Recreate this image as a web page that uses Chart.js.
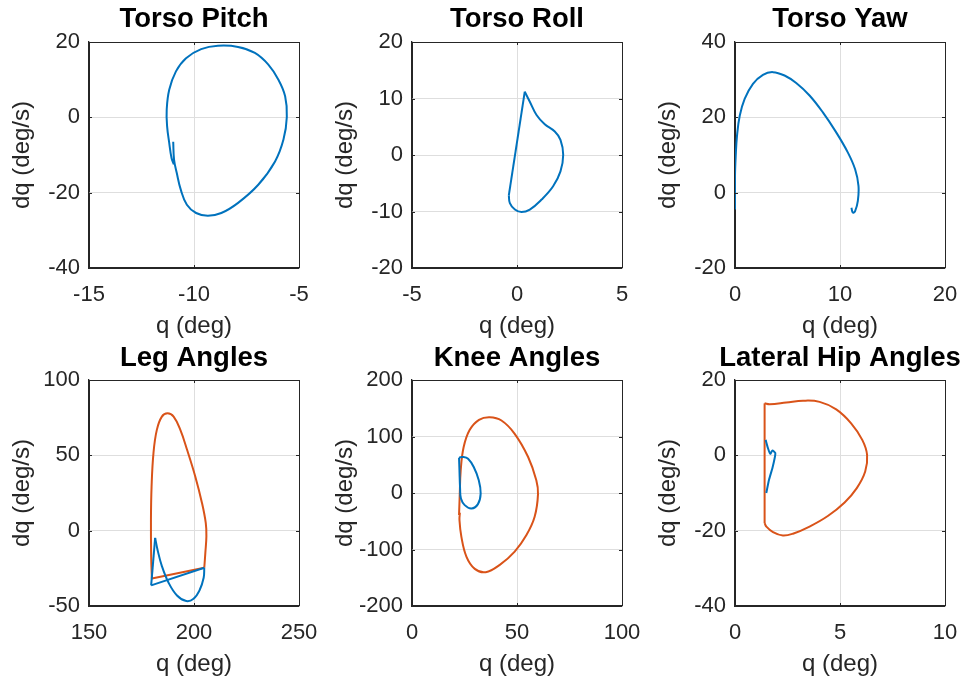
<!DOCTYPE html>
<html>
<head>
<meta charset="utf-8">
<script src="https://cdn.jsdelivr.net/npm/chart.js@4.4.1/dist/chart.umd.min.js"></script>
<style>
  html, body { margin: 0; padding: 0; background: #fff; overflow: hidden; }
  body { width: 964px; height: 679px; position: relative; }
  canvas { position: absolute; }
</style>
</head>
<body>
<script>
// ---- phase portraits: joint angle q (deg) against rate dq (deg/s) ----

// Torso pitch
const pitchQ  = [-10.99, -10.95, -10.82, -10.63, -10.34, -9.90, -9.34, -8.70, -7.90, -6.94, -6.14, -5.74, -5.58, -5.66, -5.98, -6.46, -7.10, -7.90, -8.86, -9.66, -10.38, -10.86, -11.18, -11.30, -11.28, -11.18, -11.07, -10.96];
const pitchDq = [-6.5, -11.2, -14.8, -19.2, -23.2, -25.4, -26.1, -25.4, -22.7, -17.9, -11.7, -5.9, 0.1, 5.6, 10.0, 14.0, 17.1, 18.7, 19.0, 18.1, 15.7, 12.2, 7.3, 2.0, -2.4, -6.8, -10.8, -12.5];

// Torso roll (jump after impact, then the smooth swing)
const rollJumpQ  = [-0.39, 0.37];
const rollJumpDq = [-7.13, 11.2];
const rollQ  = [0.37, 0.61, 0.93, 1.32, 1.80, 2.07, 2.20, 2.07, 1.72, 1.17, 0.61, 0.21, -0.10, -0.34, -0.39];
const rollDq = [11.2, 9.43, 7.08, 5.44, 4.15, 2.68, 0.04, -2.90, -5.54, -7.89, -9.66, -10.1, -9.66, -8.5, -7.13];

// Torso yaw
const yawQ  = [0, 0, 0.07, 0.19, 0.45, 0.92, 1.71, 2.66, 3.61, 4.72, 5.83, 7.10, 8.37, 9.64, 10.74, 11.44, 11.76, 11.70, 11.44, 11.22, 11.09];
const yawDq = [-4.45, 4.4, 9.8, 15.1, 20.4, 24.9, 28.9, 31.3, 32.0, 31.1, 29.1, 25.8, 21.3, 16.0, 10.7, 6.2, 1.8, -2.2, -4.9, -5.3, -4.0];

// Leg angles, leg 1
const leg1JumpQ  = [179.6, 181.5];
const leg1JumpDq = [-36.3, -4.8];
const leg1Q  = [181.5, 182.6, 184.7, 187.9, 191.9, 196.3, 199.8, 202.7, 204.6, 204.9];
const leg1Dq = [-4.8, -12.5, -23.5, -34.6, -43.0, -46.7, -45.2, -39.4, -31.3, -24.6];
const leg1ResetQ  = [204.9, 179.6];
const leg1ResetDq = [-24.6, -36.3];
// Leg angles, leg 2
const leg2Q  = [179.94, 179.6, 179.5, 179.8, 180.7, 182.3, 184.7, 187.4, 190.3, 193.5, 196.7, 200.6, 203.8, 205.6, 205.9, 205.4, 204.9];
const leg2Dq = [-31.7, -16.9, 7.3, 29.4, 51.5, 66.9, 75.7, 77.9, 75.7, 66.9, 53.7, 36.0, 18.4, 5.1, -3.7, -14.7, -24.6];
const leg2ResetQ  = [204.9, 179.94];
const leg2ResetDq = [-24.6, -31.7];

// Knee angles
const knee1Q  = [22.4, 24.3, 26.7, 29.4, 31.8, 32.7, 31.4, 28.3, 25.1, 23.3, 22.9, 22.6, 22.4];
const knee1Dq = [62.5, 63.7, 60.8, 46.0, 22.6, -0.9, -19.7, -27.4, -21.5, -9.8, 7.9, 40.2, 62.5];
const knee2Q  = [22.4, 22.7, 23.2, 24.6, 27.5, 31.9, 37.0, 42.6, 48.9, 55.3, 59.2, 60.0, 58.4, 54.5, 48.9, 41.8, 35.1, 29.9, 25.9, 23.5, 22.6, 22.8];
const knee2Dq = [-39.1, -6.8, 40.2, 81.3, 111.8, 129.5, 134.1, 128.3, 104.8, 63.7, 22.6, -2.0, -42.1, -74.4, -103.7, -127.2, -140.1, -134.3, -112.5, -77.3, -47.9, -35.0];

// Lateral hip angles
const hip1Q  = [1.46, 1.57, 1.68, 1.78, 1.92, 1.89, 1.78, 1.62, 1.49];
const hip1Dq = [4.1, 1.9, 0.4, 1.3, 0.6, -0.7, -3.4, -6.5, -10.0];
const hip2JumpQ  = [1.41, 1.41];
const hip2JumpDq = [-18.0, 13.8];
const hip2Q  = [1.41, 1.65, 2.44, 3.24, 4.03, 4.82, 5.53, 6.06, 6.29, 6.20, 5.80, 5.22, 4.42, 3.55, 2.76, 2.28, 1.81, 1.49, 1.41];
const hip2Dq = [13.8, 13.55, 14.0, 14.5, 14.2, 12.2, 8.5, 4.1, 0.1, -4.3, -8.7, -12.5, -16.1, -18.9, -20.8, -21.3, -20.4, -18.9, -18.0];

// Axis ticks
const pitchXTicks = [-15, -10, -5];
const pitchYTicks = [-40, -20, 0, 20];
const rollXTicks  = [-5, 0, 5];
const rollYTicks  = [-20, -10, 0, 10, 20];
const yawXTicks   = [0, 10, 20];
const yawYTicks   = [-20, 0, 20, 40];
const legXTicks   = [150, 200, 250];
const legYTicks   = [-50, 0, 50, 100];
const kneeXTicks  = [0, 50, 100];
const kneeYTicks  = [-200, -100, 0, 100, 200];
const hipXTicks   = [0, 5, 10];
const hipYTicks   = [-40, -20, 0, 20];

const BLUE = '#0072bd';
const ORANGE = '#d95319';
const AXIS = '#262626';
const GRID = '#dedede';
const FONT = "'Liberation Sans', Arial, Helvetica, sans-serif";

// subplot geometry; an empty right-hand axis as wide as the left one
// keeps the canvas symmetric, so the title centres over the plot box
const colLeft = [89, 412, 735];
const rowTop = [42, 380];
const titlePadTop = [3.2, 4.2];
const PLOT_W = 210, PLOT_H = 226;
const Y_AXIS_W = 85, X_AXIS_H = 75, TITLE_H = 42;
const TITLE_SIZE = 27.5, TITLE_LINE = TITLE_SIZE * 1.2;

const panels = [
    { title: 'Torso Pitch', xTicks: pitchXTicks, yTicks: pitchYTicks, series: [
        { q: pitchQ, dq: pitchDq, color: BLUE, tension: 0.4 } ] },
    { title: 'Torso Roll', xTicks: rollXTicks, yTicks: rollYTicks, series: [
        { q: rollJumpQ, dq: rollJumpDq, color: BLUE, tension: 0 },
        { q: rollQ, dq: rollDq, color: BLUE, tension: 0.4 } ] },
    { title: 'Torso Yaw', xTicks: yawXTicks, yTicks: yawYTicks, series: [
        { q: yawQ, dq: yawDq, color: BLUE, tension: 0.4 } ] },
    { title: 'Leg Angles', xTicks: legXTicks, yTicks: legYTicks, series: [
        { q: leg1JumpQ, dq: leg1JumpDq, color: BLUE, tension: 0 },
        { q: leg1Q, dq: leg1Dq, color: BLUE, tension: 0.4 },
        { q: leg1ResetQ, dq: leg1ResetDq, color: BLUE, tension: 0 },
        { q: leg2Q, dq: leg2Dq, color: ORANGE, tension: 0.4 },
        { q: leg2ResetQ, dq: leg2ResetDq, color: ORANGE, tension: 0 } ] },
    { title: 'Knee Angles', xTicks: kneeXTicks, yTicks: kneeYTicks, series: [
        { q: knee1Q, dq: knee1Dq, color: BLUE, tension: 0.4 },
        { q: knee2Q, dq: knee2Dq, color: ORANGE, tension: 0.4 } ] },
    { title: 'Lateral Hip Angles', xTicks: hipXTicks, yTicks: hipYTicks, series: [
        { q: hip1Q, dq: hip1Dq, color: BLUE, tension: 0.2 },
        { q: hip2JumpQ, dq: hip2JumpDq, color: ORANGE, tension: 0 },
        { q: hip2Q, dq: hip2Dq, color: ORANGE, tension: 0.4 } ] }
];

function toPoints(q, dq) {
    return q.map((v, i) => ({ x: v, y: dq[i] }));
}

// small inward tick marks on all four sides of the box
const tickMarks = {
    id: 'tickMarks',
    afterDraw(chart) {
        const { ctx, chartArea: a, scales } = chart;
        const len = 3;
        ctx.save();
        ctx.strokeStyle = AXIS;
        ctx.lineWidth = 1;
        ctx.beginPath();
        scales.x.ticks.forEach(t => {
            const px = Math.round(scales.x.getPixelForValue(t.value)) + 0.5;
            ctx.moveTo(px, a.top); ctx.lineTo(px, a.top + len);
            ctx.moveTo(px, a.bottom); ctx.lineTo(px, a.bottom - len);
        });
        scales.y.ticks.forEach(t => {
            const py = Math.round(scales.y.getPixelForValue(t.value)) + 0.5;
            ctx.moveTo(a.left, py); ctx.lineTo(a.left + len, py);
            ctx.moveTo(a.right, py); ctx.lineTo(a.right - len, py);
        });
        ctx.stroke();
        ctx.restore();
    }
};

function axis(ticks, label, dir) {
    const last = ticks.length - 1;
    return {
        type: 'linear',
        min: ticks[0],
        max: ticks[last],
        afterBuildTicks: s => { s.ticks = ticks.map(v => ({ value: v })); },
        afterFit: s => {
            if (dir === 'x') s.height = X_AXIS_H;
            else s.width = Y_AXIS_W;
        },
        grid: {
            color: c => (c.index === 0 || c.index === last) ? AXIS : GRID,
            lineWidth: 1,
            drawTicks: false
        },
        border: { color: AXIS, width: 1.3 },
        ticks: {
            color: AXIS,
            font: { family: FONT, size: 22 },
            padding: dir === 'x' ? 14 : 9,
            maxRotation: 0,
            autoSkip: false
        },
        title: {
            display: true,
            text: label,
            color: AXIS,
            font: { family: FONT, size: 24 },
            padding: dir === 'x' ? { top: 0, bottom: 2.6 } : { top: 4.1, bottom: 0 }
        }
    };
}

// empty spacer on the right side
const spacerAxis = {
    type: 'linear',
    position: 'right',
    grid: { display: false, drawOnChartArea: false },
    border: { display: false },
    ticks: { display: false },
    afterFit: s => { s.width = Y_AXIS_W; }
};

panels.forEach((p, i) => {
    const col = i % 3;
    const row = Math.floor(i / 3);
    const canvas = document.createElement('canvas');
    canvas.width = Y_AXIS_W + PLOT_W + Y_AXIS_W;
    canvas.height = TITLE_H + PLOT_H + X_AXIS_H;
    canvas.style.left = (colLeft[col] - Y_AXIS_W) + 'px';
    canvas.style.top = (rowTop[row] - TITLE_H) + 'px';
    document.body.appendChild(canvas);

    new Chart(canvas, {
        type: 'scatter',
        data: {
            datasets: p.series.map(s => ({
                data: toPoints(s.q, s.dq),
                borderColor: s.color,
                backgroundColor: s.color,
                borderWidth: 2,
                showLine: true,
                pointRadius: 0,
                tension: s.tension,
                fill: false
            }))
        },
        options: {
            responsive: false,
            animation: false,
            devicePixelRatio: 1,
            layout: { padding: 0 },
            plugins: {
                legend: { display: false },
                tooltip: { enabled: false },
                title: {
                    display: true,
                    text: p.title,
                    color: '#000',
                    font: { family: FONT, size: TITLE_SIZE, weight: 'bold', lineHeight: 1.2 },
                    padding: { top: titlePadTop[row], bottom: TITLE_H - TITLE_LINE - titlePadTop[row] }
                }
            },
            scales: {
                x: axis(p.xTicks, 'q (deg)', 'x'),
                y: axis(p.yTicks, 'dq (deg/s)', 'y'),
                spacer: spacerAxis
            }
        },
        plugins: [tickMarks]
    });
});
</script>
</body>
</html>
